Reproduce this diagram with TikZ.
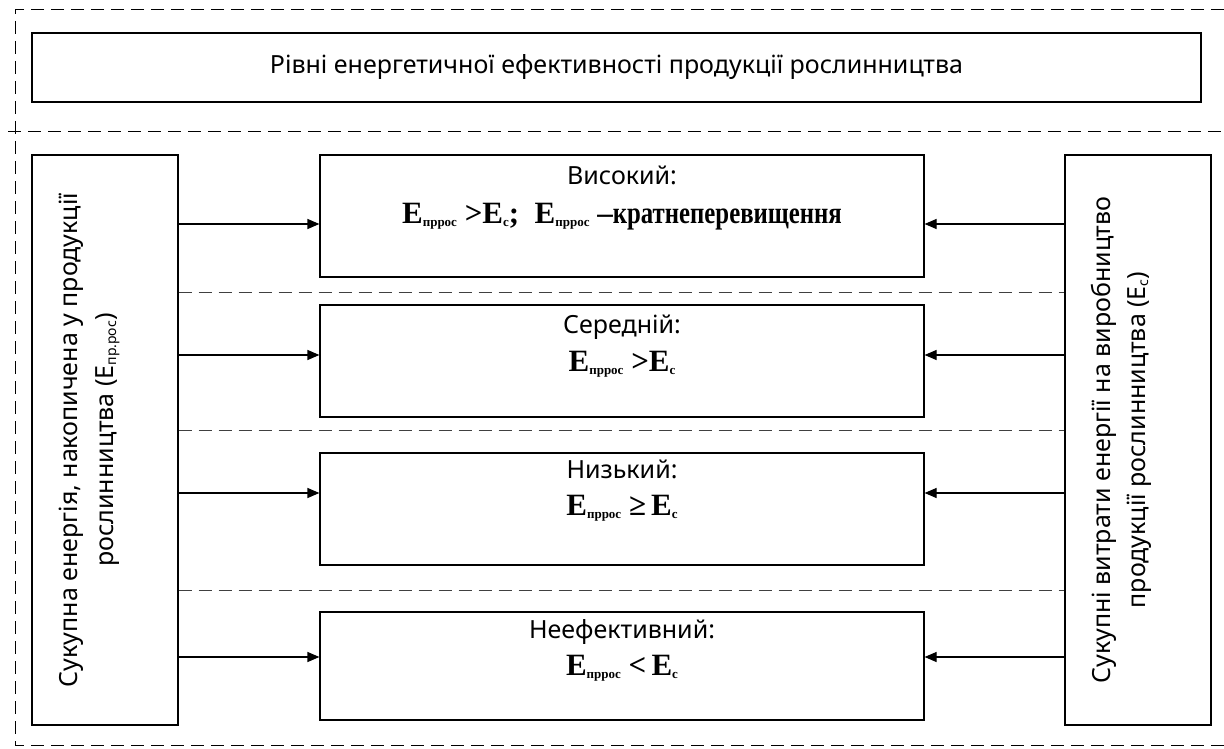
\documentclass[tikz,border=0pt]{standalone}
\usepackage{fontspec}
\usepackage{graphicx}
\setmainfont{Noto Sans}
\newfontfamily\fserif{Liberation Serif}
\usetikzlibrary{arrows.meta}
\newcommand{\Ep}{E\raisebox{-3.5pt}{\fontsize{13}{13}\selectfont пррос}}
\newcommand{\Ec}{E\raisebox{-3.5pt}{\fontsize{13}{13}\selectfont с}}
\tikzset{
  box/.style={draw, line width=1.2pt, rectangle, inner sep=0pt},
  frame/.style={draw, line width=1pt, dash pattern=on 13pt off 7pt},
  sep/.style={draw=black!75, line width=1pt, dash pattern=on 13pt off 7pt},
  arr/.style={draw, line width=1.2pt, -{Triangle[length=12pt,width=10pt]}},
  lbl/.style={font=\fontsize{25}{28}\selectfont, anchor=base, inner sep=0pt},
  frm/.style={font=\fontsize{31}{32}\selectfont\fserif\bfseries, anchor=base, inner sep=0pt},
  side/.style={font=\fontsize{25}{28}\selectfont, rotate=90, anchor=base, inner sep=0pt}
}
\begin{document}
\begin{tikzpicture}[x=1pt,y=-1pt]
\useasboundingbox (0,0) rectangle (1224,749);
% outer frame
\coordinate (ftl) at (15,10);
\coordinate (ftr) at (1224,10);
\coordinate (fbl) at (15,745);
\coordinate (fbr) at (1224,745);
\coordinate (hl) at (8,132);
\coordinate (hr) at (1224,132);
\draw[frame] (ftr) -- (ftl) -- (fbl) -- (fbr);
\draw[frame] (hl) -- (hr);
% title
\node[box, minimum width=1169pt, minimum height=69pt,
      font=\fontsize{25}{28}\selectfont] (title) at (616.5,67.5)
  {Рівні енергетичної ефективності продукції рослинництва};
% side boxes
\node[box, minimum width=146pt, minimum height=570pt] (L) at (105,440) {};
\node[box, minimum width=146pt, minimum height=570pt] (R) at (1138,440) {};
\node[side] (Lt1) at (77,440) {Сукупна енергія,  накопичена у продукції};
\node[side] (Lt2) at (113,440) {рослинництва (E\raisebox{-3pt}{\fontsize{14}{14}\selectfont пр.рос})};
\node[side] (Rt1) at (1110,440) {Сукупні витрати енергії на виробництво};
\node[side] (Rt2) at (1145,440) {продукції рослинництва (E\raisebox{-3pt}{\fontsize{14}{14}\selectfont с})};
% centre boxes
\node[box, minimum width=604pt, minimum height=122pt] (b1) at (622,216) {};
\node[box, minimum width=604pt, minimum height=112pt] (b2) at (622,361) {};
\node[box, minimum width=604pt, minimum height=112pt] (b3) at (622,509) {};
\node[box, minimum width=604pt, minimum height=108pt] (b4) at (622,666) {};
% texts
\node[lbl] (t1) at (622,185) {Високий:};
\node[frm] (f1) at (622,223) {\Ep\ >\Ec; \ \Ep\ –\scalebox{0.8}[1]{кратнеперевищення}};
\node[lbl] (t2) at (622,333) {Середній:};
\node[frm] (f2) at (622,371) {\Ep\ >\Ec};
\node[lbl] (t3) at (622,478) {Низький:};
\node[frm] (f3) at (622,515) {\Ep\ ≥\,\Ec};
\node[lbl] (t4) at (622,638) {Неефективний:};
\node[frm] (f4) at (622,675) {\Ep\ <\,\Ec};
% separators
\coordinate (s1) at (0,292);
\coordinate (s2) at (0,430);
\coordinate (s3) at (0,590);
\foreach \s in {s1,s2,s3}{
  \draw[sep] (L.east |- \s) -- (R.west |- \s);
}
% arrows
\foreach \b/\y in {b1/224,b2/355,b3/493,b4/657}{
  \coordinate (a\b) at (0,\y);
  \draw[arr] (L.east |- a\b) -- (\b.west |- a\b);
  \draw[arr] (R.west |- a\b) -- (\b.east |- a\b);
}
\end{tikzpicture}
\end{document}
